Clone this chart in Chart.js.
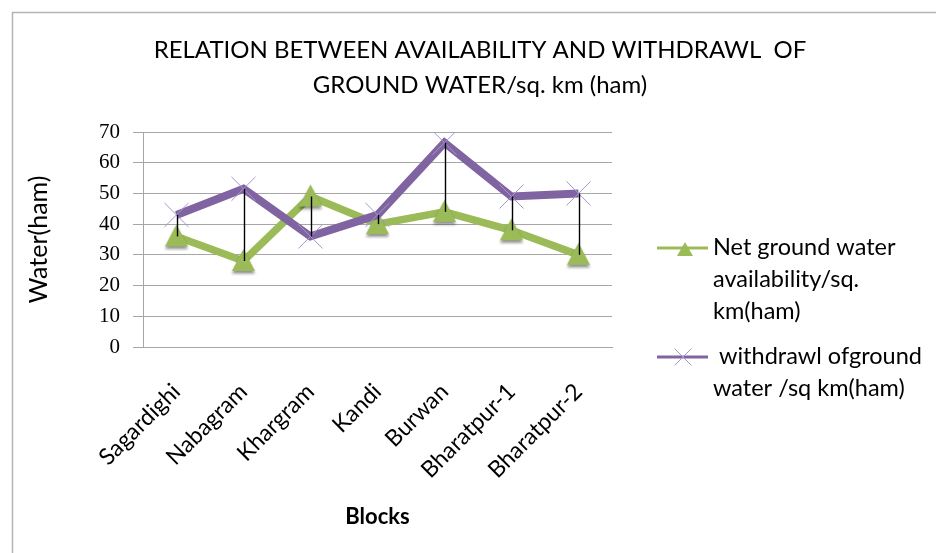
<!DOCTYPE html>
<html>
<head>
<meta charset="utf-8">
<script src="https://cdn.jsdelivr.net/npm/chart.js@4/dist/chart.umd.min.js"></script>
<style>
  html, body { margin: 0; padding: 0; background: #fff; }
  #wrap { width: 936px; height: 553px; position: relative; }
  canvas { display: block; }
</style>
</head>
<body>
<div id="wrap"><canvas id="chart" width="936" height="553"></canvas></div>
<script>
// Blocks on the x axis
const blocks = ["Sagardighi", "Nabagram", "Khargram", "Kandi", "Burwan", "Bharatpur-1", "Bharatpur-2"];
// Net ground water availability per sq. km (ham)
const availability = [36, 28, 49, 40, 44, 38, 30];
// Withdrawal of ground water per sq. km (ham)
const withdrawal = [43, 51.5, 36, 43, 66.5, 49, 50];
// Value axis ticks
const yTickValues = [0, 10, 20, 30, 40, 50, 60, 70];
// Legend text, one entry per line
const availabilityLabel = ["Net ground water", "availability/sq.", "km(ham)"];
const withdrawalLabel = [" withdrawl ofground", "water /sq km(ham)"];
const titleLines = ["RELATION BETWEEN AVAILABILITY AND WITHDRAWL  OF", "GROUND WATER/sq. km (ham)"];

const GREEN = "#9bbb59";
const PURPLE = "#8064a2";
const CROSS = "#a797cc";
const GRID = "#a6a6a6";
const SANS = "Lato, 'Open Sans', sans-serif";

// Isosceles triangle marker sprite, optionally with a soft drop shadow
function makeTriangleMarker(w, h, color, shadow) {
  const pad = shadow ? 3 : 1;
  const c = document.createElement("canvas");
  c.width = Math.ceil(w + pad * 2);
  c.height = Math.ceil(h + pad * 2 + (shadow ? 2 : 0));
  const g = c.getContext("2d");
  if (shadow) {
    g.shadowColor = "rgba(0,0,0,0.45)";
    g.shadowBlur = 3;
    g.shadowOffsetY = 2.5;
  }
  g.fillStyle = color;
  g.beginPath();
  g.moveTo(c.width / 2, pad);
  g.lineTo(c.width / 2 + w / 2, pad + h);
  g.lineTo(c.width / 2 - w / 2, pad + h);
  g.closePath();
  g.fill();
  return c;
}
const triangleMarker = makeTriangleMarker(23, 22, GREEN, true);
const legendTriangle = makeTriangleMarker(16, 14, GREEN, false);

function drawCross(ctx, x, y, r) {
  const d = r * Math.SQRT1_2;
  ctx.beginPath();
  ctx.moveTo(x - d, y - d); ctx.lineTo(x + d, y + d);
  ctx.moveTo(x + d, y - d); ctx.lineTo(x - d, y + d);
  ctx.stroke();
}

// White background and the outer chart frame
const framePlugin = {
  id: "frame",
  beforeDraw(chart) {
    const ctx = chart.ctx;
    ctx.save();
    ctx.fillStyle = "#fff";
    ctx.fillRect(0, 0, chart.width, chart.height);
    ctx.strokeStyle = "#b4b4b4";
    ctx.lineWidth = 1.5;
    ctx.strokeRect(12.5, 12.5, chart.width + 20, chart.height + 20);
    ctx.restore();
  }
};

// Two-line heading centred over the whole chart
const headingPlugin = {
  id: "heading",
  afterDraw(chart) {
    const ctx = chart.ctx;
    ctx.save();
    ctx.fillStyle = "#000";
    ctx.font = "24px " + SANS;
    ctx.textAlign = "center";
    ctx.textBaseline = "middle";
    titleLines.forEach((t, i) => ctx.fillText(t, 480, 50 + i * 35));
    ctx.restore();
  }
};

// Vertical high-low lines joining the two series at each block
const highLowPlugin = {
  id: "highLow",
  afterDatasetsDraw(chart) {
    const ctx = chart.ctx, xs = chart.scales.x, ys = chart.scales.y;
    ctx.save();
    ctx.strokeStyle = "#000";
    ctx.lineWidth = 1.4;
    blocks.forEach((b, i) => {
      const px = Math.round(xs.getPixelForValue(i)) + 0.5;
      ctx.beginPath();
      ctx.moveTo(px, ys.getPixelForValue(availability[i]));
      ctx.lineTo(px, ys.getPixelForValue(withdrawal[i]));
      ctx.stroke();
    });
    ctx.restore();
  }
};

// Legend on the right with wrapped labels
const sideLegendPlugin = {
  id: "sideLegend",
  afterDraw(chart) {
    const ctx = chart.ctx;
    const x0 = 657, x1 = 708, tx = 713, lineH = 32;
    const items = [
      { ds: chart.data.datasets[0], top: 247, marker: "triangle" },
      { ds: chart.data.datasets[1], top: 356, marker: "cross" }
    ];
    ctx.save();
    items.forEach(it => {
      const y = it.top + 1;
      ctx.strokeStyle = it.ds.borderColor;
      ctx.lineWidth = 3;
      ctx.beginPath(); ctx.moveTo(x0, y); ctx.lineTo(x1, y); ctx.stroke();
      if (it.marker === "triangle") {
        ctx.drawImage(legendTriangle, 685 - legendTriangle.width / 2, y + 1 - legendTriangle.height / 2);
      } else {
        ctx.strokeStyle = it.ds.pointBorderColor;
        ctx.lineWidth = 1;
        drawCross(ctx, 683, y, 12);
      }
      ctx.fillStyle = "#000";
      ctx.font = "23.5px " + SANS;
      ctx.textAlign = "left";
      ctx.textBaseline = "middle";
      it.ds.label.forEach((line, k) => ctx.fillText(line, tx, it.top + k * lineH));
    });
    ctx.restore();
  }
};

new Chart(document.getElementById("chart"), {
  type: "line",
  data: {
    labels: blocks,
    datasets: [
      {
        label: availabilityLabel,
        data: availability,
        borderColor: GREEN,
        backgroundColor: GREEN,
        borderWidth: 7.5,
        pointStyle: triangleMarker,
        pointRadius: 12,
        pointBackgroundColor: GREEN,
        pointBorderColor: GREEN,
        tension: 0,
        order: 2
      },
      {
        label: withdrawalLabel,
        data: withdrawal,
        borderColor: PURPLE,
        backgroundColor: PURPLE,
        borderWidth: 8,
        pointStyle: "crossRot",
        pointRadius: 17,
        pointBackgroundColor: CROSS,
        pointBorderColor: CROSS,
        pointBorderWidth: 1,
        tension: 0,
        order: 1
      }
    ]
  },
  options: {
    responsive: false,
    animation: false,
    devicePixelRatio: 1,
    layout: { padding: { top: 132, right: 324, left: 0, bottom: 0 } },
    plugins: {
      legend: { display: false },
      title: { display: false },
      tooltip: { enabled: false }
    },
    scales: {
      x: {
        offset: true,
        grid: { display: false, drawTicks: false },
        border: { color: GRID },
        ticks: {
          minRotation: 45, maxRotation: 45, autoSkip: false,
          color: "#000", padding: 31,
          font: { family: SANS, size: 23 }
        },
        title: {
          display: true, text: "Blocks", color: "#000",
          font: { family: SANS, size: 22, weight: "bold" },
          padding: { bottom: 23, top: 0 }
        },
        afterFit(scale) { scale.height = 206; }
      },
      y: {
        min: 0, max: 70,
        afterBuildTicks(scale) { scale.ticks = yTickValues.map(v => ({ value: v })); },
        grid: { color: GRID, lineWidth: 1, tickLength: 10 },
        border: { color: GRID },
        ticks: {
          color: "#000", padding: 13,
          font: { family: "'Liberation Serif', serif", size: 21 }
        },
        title: {
          display: true, text: "Water(ham)", color: "#000",
          font: { family: SANS, size: 25 },
          padding: { top: 24, bottom: 0 }
        },
        afterFit(scale) { scale.width = 143; }
      }
    }
  },
  plugins: [framePlugin, highLowPlugin, headingPlugin, sideLegendPlugin]
});
</script>
</body>
</html>
